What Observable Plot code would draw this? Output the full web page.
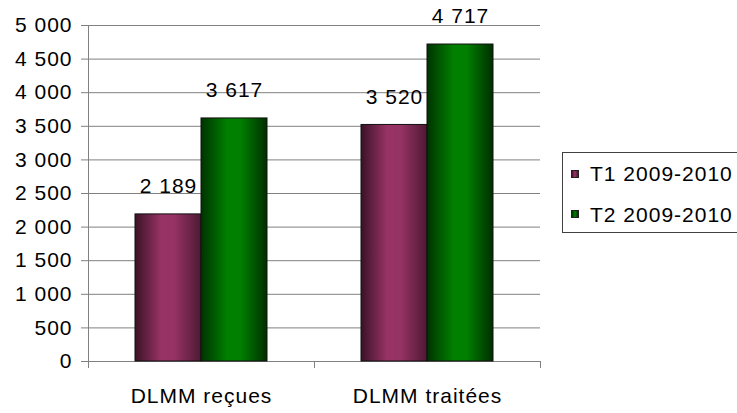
<!DOCTYPE html>
<html>
<head>
<meta charset="utf-8">
<script src="https://cdn.jsdelivr.net/npm/d3@7"></script>
<script src="https://cdn.jsdelivr.net/npm/@observablehq/plot@0.6"></script>
<style>
  html, body { margin: 0; padding: 0; background: white; }
  #wrap { position: relative; width: 737px; height: 413px; overflow: hidden; font-family: "Liberation Sans", Arial, sans-serif; }
  #legend { position: absolute; left: 562px; top: 152px; width: 200px; height: 81px; border: 1px solid #404040; box-sizing: border-box; background: white; }
  .item { position: absolute; left: 8px; display: flex; align-items: center; font-size: 21px; line-height: 21px; letter-spacing: 1px; color: black; white-space: nowrap; }
  .sw { width: 6px; height: 6px; border: 1px solid #202020; margin-right: 11px; }
</style>
</head>
<body>
<div id="wrap"></div>
<script>
const categories = ["DLMM reçues", "DLMM traitées"];
const series = ["T1 2009-2010", "T2 2009-2010"];
const t1Values = [2189, 3520];
const t2Values = [3617, 4717];
const yTicks = [0, 500, 1000, 1500, 2000, 2500, 3000, 3500, 4000, 4500, 5000];
const seriesGradients = ["url(#gp)", "url(#gg)"];
const seriesCss = [
  "linear-gradient(to right, #3f1428, #993366 45%, #4d1a33)",
  "linear-gradient(to right, #003300, #008000 50%, #003000)"
];

const data = categories.flatMap((c, i) => [
  {category: c, series: series[0], value: t1Values[i]},
  {category: c, series: series[1], value: t2Values[i]}
]);

const fmt = d => d3.format(",")(d).replace(/,/g, " ");

const plot = Plot.plot({
  width: 737,
  height: 413,
  marginLeft: 88,
  marginRight: 197,
  marginTop: 25,
  marginBottom: 52,
  style: {fontFamily: "'Liberation Sans', Arial, sans-serif", fontSize: "21px", letterSpacing: "1px", background: "white", color: "black", overflow: "visible"},
  fx: {domain: categories, padding: 0, label: null, axis: null},
  x: {domain: series, paddingInner: 0, paddingOuter: 0.69, axis: null},
  y: {domain: [0, 5000], axis: null},
  color: {domain: series, range: seriesGradients},
  marks: [
    Plot.gridY(yTicks, {stroke: "#808080", strokeOpacity: 1}),
    Plot.ruleY([0], {stroke: "#808080"}),
    Plot.barY(data, {fx: "category", x: "series", y: "value", fill: "series", stroke: "#111", strokeWidth: 1}),
    Plot.text(data, {fx: "category", x: "series", y: "value", text: d => fmt(d.value), dy: -28, fontSize: 21, fill: "black"}),
    Plot.axisY(yTicks, {tickSize: 7, tickPadding: 9, tickFormat: fmt, stroke: "#808080", fill: "black", fontSize: 21, label: null}),
    Plot.axisFx({anchor: "bottom", tickSize: 0, tickPadding: 27, label: null, fontSize: 21, fill: "black"})
  ]
});

const svg = d3.select(plot);
const defs = svg.insert("defs", ":first-child");
const gp = defs.append("linearGradient").attr("id", "gp").attr("x1", 0).attr("x2", 1).attr("y1", 0).attr("y2", 0);
[[0, "#3a1226"], [0.4, "#993366"], [0.6, "#963264"], [1, "#4d1a33"]].forEach(([o, c]) => gp.append("stop").attr("offset", o).attr("stop-color", c));
const gg = defs.append("linearGradient").attr("id", "gg").attr("x1", 0).attr("x2", 1).attr("y1", 0).attr("y2", 0);
[[0, "#003300"], [0.4, "#008000"], [0.6, "#007f00"], [1, "#002e00"]].forEach(([o, c]) => gg.append("stop").attr("offset", o).attr("stop-color", c));

// axis line and category boundary ticks from the library's scales
const fxs = plot.scale("fx");
const ys = plot.scale("y");
const y0 = ys.apply(0), yTop = ys.apply(5000);
const left = fxs.apply(categories[0]);
const edges = categories.map(c => fxs.apply(c)).concat([fxs.apply(categories[categories.length - 1]) + fxs.bandwidth]);
const g = svg.append("g").attr("stroke", "#808080").attr("stroke-width", 1);
g.append("line").attr("x1", left + 0.5).attr("x2", left + 0.5).attr("y1", yTop).attr("y2", y0);
edges.forEach(e => g.append("line").attr("x1", e + 0.5).attr("x2", e + 0.5).attr("y1", y0).attr("y2", y0 + 7));

const wrap = document.getElementById("wrap");
wrap.appendChild(plot);

const legend = document.createElement("div");
legend.id = "legend";
series.forEach((s, i) => {
  const item = document.createElement("div");
  item.className = "item";
  item.style.top = (i === 0 ? 10 : 50.5) + "px";
  const sw = document.createElement("div");
  sw.className = "sw";
  sw.style.background = seriesCss[i];
  const t = document.createElement("span");
  t.textContent = s;
  item.appendChild(sw);
  item.appendChild(t);
  legend.appendChild(item);
});
wrap.appendChild(legend);
</script>
</body>
</html>
